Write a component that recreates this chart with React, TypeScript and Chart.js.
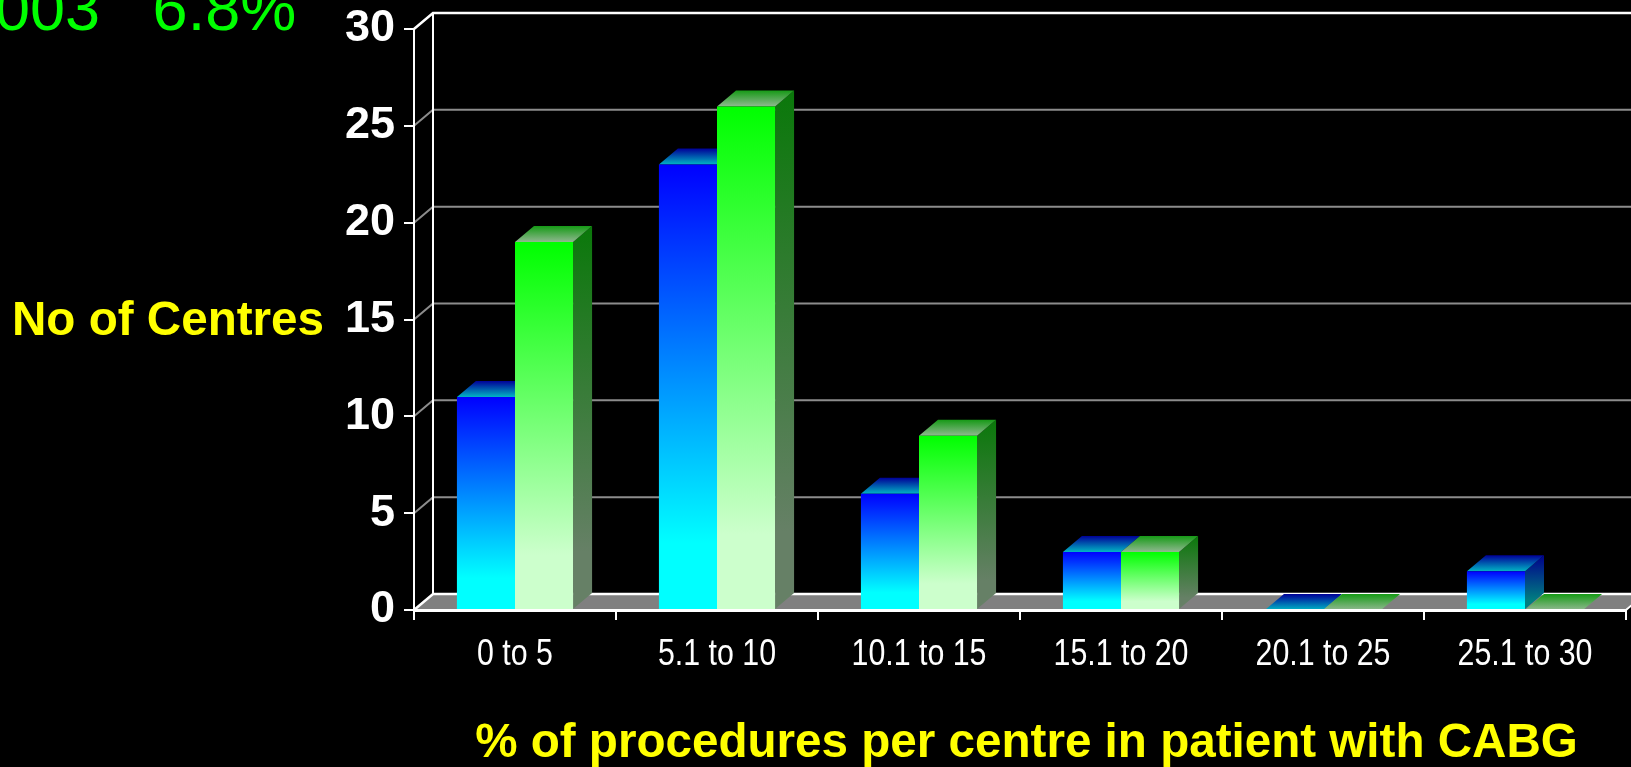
import React, { useEffect, useRef } from "react";
import { Chart, registerables } from "chart.js";

Chart.register(...registerables);

const categories = ["0 to 5", "5.1 to 10", "10.1 to 15", "15.1 to 20", "20.1 to 25", "25.1 to 30"];
const blueValues = [11, 23, 6, 3, 0, 2];
const greenValues = [19, 26, 9, 3, 0, 0];
const yTicks = [0, 5, 10, 15, 20, 25, 30];

const yTitle = "No of Centres";
const xTitle = "% of procedures per centre in patient with CABG";
const cornerText = "003   6.8%";

const DX = 19;
const DY = 16;
const SANS = '"Liberation Sans", Arial, sans-serif';

const faceColors = [
  { front: ["#0000ff", "#00ffff"], side: ["#00008c", "#008080"], top: ["#000098", "#00b4c4"] },
  { front: ["#00ff00", "#ccffcc"], side: ["#0a780a", "#668066"], top: ["#169a16", "#8fb88f"] },
];

function frontGradient(ctx: any) {
  const chart = ctx.chart;
  const set = faceColors[ctx.datasetIndex];
  const y = chart.scales.y;
  if (!y || !ctx.parsed) return set.front[0];
  const top = y.getPixelForValue(ctx.parsed.y);
  const bottom = y.getPixelForValue(0);
  if (!Number.isFinite(top) || !Number.isFinite(bottom) || bottom - top < 1) return set.front[0];
  const g = chart.ctx.createLinearGradient(0, top, 0, bottom);
  g.addColorStop(0, set.front[0]);
  g.addColorStop(0.85, set.front[1]);
  g.addColorStop(1, set.front[1]);
  return g;
}

const wallPlugin = {
  id: "wall3d",
  beforeDraw(chart: any) {
    const { ctx, scales, chartArea, width, height } = chart;
    const y = scales.y;
    const zero = y.getPixelForValue(0);
    ctx.save();
    ctx.fillStyle = "#000";
    ctx.fillRect(0, 0, width, height);

    ctx.fillStyle = "#808080";
    ctx.beginPath();
    ctx.moveTo(chartArea.left, zero);
    ctx.lineTo(chartArea.left + DX, zero - DY);
    ctx.lineTo(chartArea.right + DX, zero - DY);
    ctx.lineTo(chartArea.right, zero);
    ctx.closePath();
    ctx.fill();

    yTicks.forEach((v) => {
      const py = y.getPixelForValue(v);
      const strong = v === 0 || v === 30;
      ctx.strokeStyle = strong ? "#ffffff" : "#8c8c8c";
      ctx.lineWidth = strong ? 2.5 : 2;
      ctx.beginPath();
      ctx.moveTo(chartArea.left, py);
      ctx.lineTo(chartArea.left + DX, py - DY);
      ctx.lineTo(chartArea.right + DX, py - DY);
      ctx.stroke();
    });

    ctx.strokeStyle = "#ffffff";
    ctx.lineWidth = 2;
    ctx.beginPath();
    ctx.moveTo(chartArea.left + DX, y.getPixelForValue(30) - DY);
    ctx.lineTo(chartArea.left + DX, zero - DY);
    ctx.moveTo(chartArea.right, zero);
    ctx.lineTo(chartArea.right + DX, zero - DY);
    ctx.stroke();
    ctx.restore();
  },
  beforeDatasetsDraw(chart: any) {
    const { ctx } = chart;
    ctx.save();
    [0, 1].forEach((i) => {
      const set = faceColors[i];
      chart.getDatasetMeta(i).data.forEach((bar: any) => {
        const left = bar.x - bar.width / 2;
        const right = bar.x + bar.width / 2;
        const top = bar.y;
        const base = bar.base;
        if (![left, right, top, base].every(Number.isFinite)) return;
        if (base - top > 0.5) {
          const sg = ctx.createLinearGradient(0, top - DY, 0, base);
          sg.addColorStop(0, set.side[0]);
          sg.addColorStop(0.85, set.side[1]);
          sg.addColorStop(1, set.side[1]);
          ctx.fillStyle = sg;
          ctx.beginPath();
          ctx.moveTo(right, top);
          ctx.lineTo(right + DX, top - DY);
          ctx.lineTo(right + DX, base - DY);
          ctx.lineTo(right, base);
          ctx.closePath();
          ctx.fill();
        }
        const tg = ctx.createLinearGradient(0, top - DY, 0, top);
        tg.addColorStop(0, set.top[0]);
        tg.addColorStop(1, set.top[1]);
        ctx.fillStyle = tg;
        ctx.beginPath();
        ctx.moveTo(left, top);
        ctx.lineTo(left + DX, top - DY);
        ctx.lineTo(right + DX, top - DY);
        ctx.lineTo(right, top);
        ctx.closePath();
        ctx.fill();
      });
    });
    ctx.restore();
  },
  afterDraw(chart: any) {
    const { ctx, scales } = chart;
    ctx.save();
    ctx.textBaseline = "alphabetic";
    ctx.textAlign = "left";
    ctx.fillStyle = "#00ff00";
    ctx.font = `63px ${SANS}`;
    ctx.fillText(cornerText, -5, 30);
    ctx.fillStyle = "#ffff00";
    ctx.font = `bold 47.6px ${SANS}`;
    ctx.fillText(yTitle, 12, 335);
    ctx.textAlign = "center";
    ctx.fillText(xTitle, 1026.5, 757);

    // Category labels: the reference's face is condensed, so they are squeezed horizontally.
    ctx.fillStyle = "#ffffff";
    ctx.font = `37px ${SANS}`;
    categories.forEach((label, i) => {
      ctx.save();
      ctx.translate(scales.x.getPixelForTick(i), 665);
      ctx.scale(0.82, 1);
      ctx.fillText(label, 0, 0);
      ctx.restore();
    });
    ctx.restore();
  },
};

export default function App() {
  const ref = useRef<HTMLCanvasElement>(null);
  useEffect(() => {
    document.body.style.margin = "0";
    document.body.style.background = "#000";
    document.body.style.overflow = "hidden";
    const chart = new Chart(ref.current as HTMLCanvasElement, {
      type: "bar",
      data: {
        labels: categories,
        datasets: [
          { label: "Blue", data: blueValues, backgroundColor: frontGradient, borderWidth: 0 },
          { label: "Green", data: greenValues, backgroundColor: frontGradient, borderWidth: 0 },
        ],
      },
      plugins: [wallPlugin],
      options: {
        responsive: false,
        animation: false,
        layout: { autoPadding: false, padding: { top: 29, right: 5, left: 0, bottom: 0 } },
        plugins: { legend: { display: false }, title: { display: false }, tooltip: { enabled: false } },
        datasets: { bar: { categoryPercentage: 0.575, barPercentage: 1 } },
        scales: {
          x: {
            afterFit: (s: any) => { s.height = 157; },
            grid: { drawOnChartArea: false, color: "#fff", lineWidth: 2, tickLength: 10, tickWidth: 2, z: 1 },
            border: { color: "#fff", width: 3, z: 1 },
            ticks: { display: false },
          },
          y: {
            min: 0,
            max: 30,
            afterFit: (s: any) => { s.width = 414; s.paddingTop = 0; s.paddingBottom = 0; },
            afterBuildTicks: (s: any) => { s.ticks = yTicks.map((value) => ({ value })); },
            grid: { drawOnChartArea: false, color: "#fff", lineWidth: 2, tickLength: 10, tickWidth: 2 },
            border: { color: "#fff", width: 2 },
            ticks: {
              color: "#fff",
              padding: 9,
              font: { family: SANS, size: 45, weight: "bold" },
            },
          },
        },
      },
    } as any);
    return () => chart.destroy();
  }, []);
  return <canvas ref={ref} width={1631} height={767} style={{ display: "block" }} />;
}
